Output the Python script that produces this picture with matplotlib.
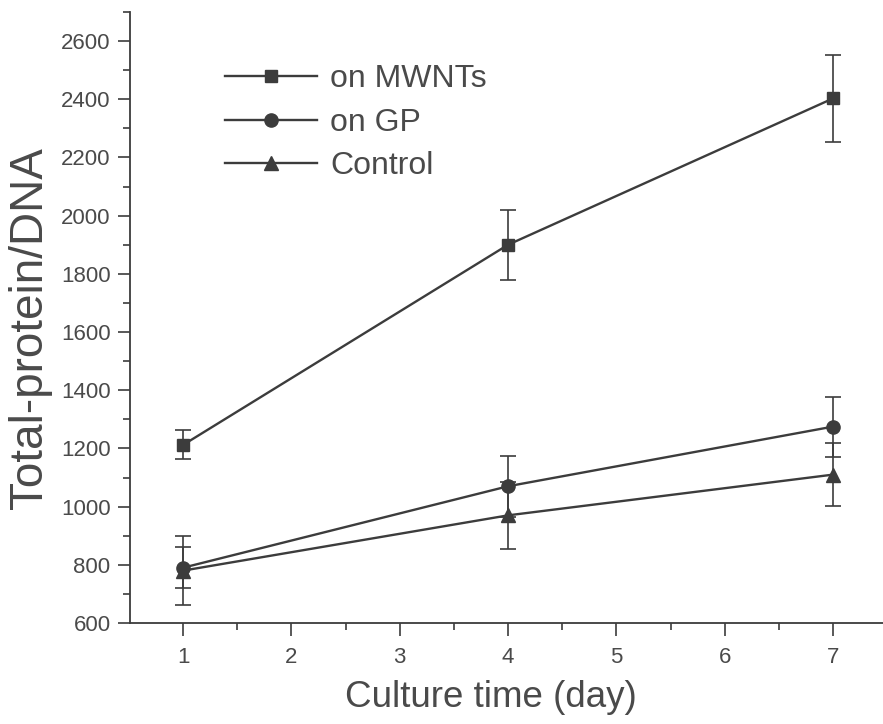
import matplotlib.pyplot as plt
from matplotlib.lines import Line2D
from matplotlib.ticker import MultipleLocator

days = [1, 4, 7]

mwnt_mean = [1212, 1900, 2403]
mwnt_err = [50, 120, 150]

gp_mean = [790, 1070, 1275]
gp_err = [70, 105, 103]

ctrl_mean = [780, 970, 1110]
ctrl_err = [118, 115, 108]


def main():
    plt.rcParams['font.family'] = ['Liberation Sans', 'DejaVu Sans']
    ink = "#3c3c3c"
    text_col = "#4a4a4a"

    fig = plt.figure(figsize=(8.83, 7.24), dpi=100)
    ax = fig.add_axes([0.1472, 0.1395, 0.8528, 0.844])

    series = [
        (mwnt_mean, mwnt_err, "s", 8, "on MWNTs"),
        (gp_mean, gp_err, "o", 9.5, "on GP"),
        (ctrl_mean, ctrl_err, "^", 10, "Control"),
    ]
    handles = []
    for mean, err, mk, ms, label in series:
        ax.errorbar(days, mean, yerr=err, color=ink, marker=mk, markersize=ms,
                    linewidth=1.7, elinewidth=1.2, capsize=6, capthick=1.2)
        # legend entry without the error bar
        handles.append(Line2D([], [], color=ink, marker=mk, markersize=ms,
                              linewidth=1.7, label=label))

    ax.set_xlim(0.51, 7.46)
    ax.set_ylim(600, 2700)
    ax.xaxis.set_major_locator(MultipleLocator(1))
    ax.xaxis.set_minor_locator(MultipleLocator(0.5))
    ax.yaxis.set_minor_locator(MultipleLocator(100))
    ax.set_yticks(range(600, 2601, 200))

    for side in ["top", "right"]:
        ax.spines[side].set_visible(False)
    for side in ["left", "bottom"]:
        ax.spines[side].set_color(ink)
        ax.spines[side].set_linewidth(1.3)

    ax.tick_params(which="major", direction="out", length=9, width=1.2,
                   color=ink, labelcolor=text_col, labelsize=16, pad=5)
    ax.tick_params(axis="x", which="major", pad=8)
    ax.tick_params(which="minor", direction="out", length=5, width=1.2,
                   color=ink)

    ax.set_xlabel("Culture time (day)", fontsize=26.5, color=text_col)
    ax.set_ylabel("Total-protein/DNA", fontsize=33, color=text_col)
    ax.xaxis.set_label_coords(0.479, -0.094)
    ax.yaxis.set_label_coords(-0.104, 0.483)

    leg = ax.legend(handles=handles, loc="upper left",
                    bbox_to_anchor=(0.109, 0.935), frameon=False, fontsize=23,
                    handlelength=2.9, handletextpad=0.4, labelspacing=0.42,
                    borderaxespad=0)
    for t in leg.get_texts():
        t.set_color(text_col)

    fig.savefig("out.png", dpi=100, facecolor="white")


if __name__ == "__main__":
    main()
